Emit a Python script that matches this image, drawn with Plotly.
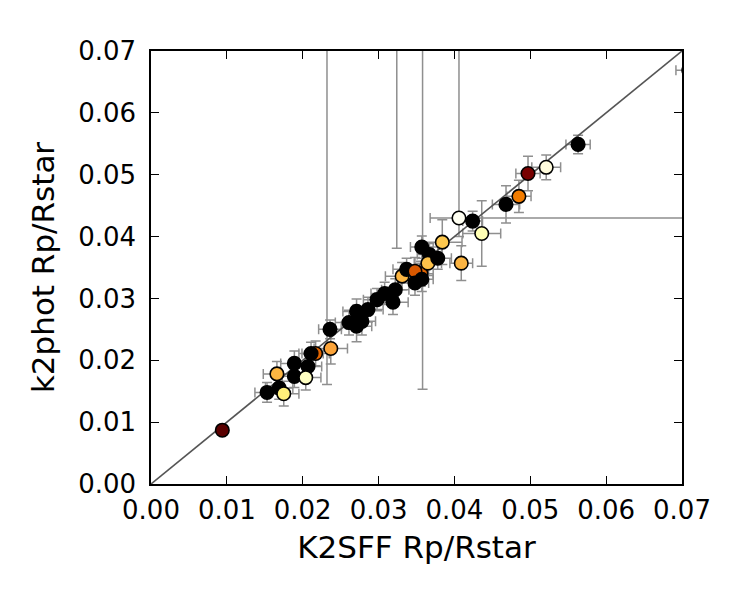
import plotly.graph_objects as go

# ---- data: K2SFF (x) vs k2phot (y) Rp/Rstar ----
k2sff = [0.0094, 0.0153, 0.0169, 0.0175, 0.0166, 0.0189, 0.0189, 0.0207, 0.0204, 0.0217,
         0.0211, 0.0236, 0.0237, 0.0261, 0.0271, 0.0278, 0.0271, 0.0286, 0.0298, 0.0308,
         0.0319, 0.0322, 0.0331, 0.0337, 0.0356, 0.0348, 0.0348, 0.0357, 0.0357, 0.0367,
         0.0365, 0.0378, 0.0384, 0.0409, 0.0406, 0.0424, 0.0436, 0.0468, 0.0485, 0.0497,
         0.0521, 0.0563, 0.0709]
k2phot = [0.0087, 0.0148, 0.0155, 0.0146, 0.0178, 0.0195, 0.0174, 0.0190, 0.0172, 0.0211,
          0.0211, 0.0250, 0.0219, 0.0261, 0.0255, 0.0263, 0.0279, 0.0282, 0.0298, 0.0308,
          0.0294, 0.0314, 0.0336, 0.0347, 0.0340, 0.0344, 0.0325, 0.0331, 0.0383, 0.0371,
          0.0357, 0.0365, 0.0391, 0.0357, 0.0430, 0.0425, 0.0405, 0.0452, 0.0465, 0.0502,
          0.0512, 0.0549, 0.0669]
xerr_lo = [0.0005, 0.0016, 0.0018, 0.0020, 0.0018, 0.0018, 0.0016, 0.0018, 0.0020, 0.0018,
           0.0016, 0.0015, 0.0022, 0.0018, 0.0020, 0.0018, 0.0018, 0.0020, 0.0018, 0.0018,
           0.0020, 0.0018, 0.0022, 0.0018, 0.0016, 0.0018, 0.0018, 0.0015, 0.0015, 0.0016,
           0.0018, 0.0018, 0.0026, 0.0015, 0.0038, 0.0013, 0.0025, 0.0018, 0.0016, 0.0016,
           0.0019, 0.0016, 0.0017]
xerr_hi = [0.0005, 0.0016, 0.0018, 0.0020, 0.0018, 0.0018, 0.0016, 0.0018, 0.0020, 0.0018,
           0.0016, 0.0015, 0.0022, 0.0018, 0.0020, 0.0018, 0.0018, 0.0020, 0.0018, 0.0018,
           0.0020, 0.0018, 0.0022, 0.0018, 0.0016, 0.0018, 0.0018, 0.0015, 0.0015, 0.0016,
           0.0018, 0.0018, 0.0026, 0.0015, 0.0400, 0.0013, 0.0025, 0.0018, 0.0016, 0.0016,
           0.0019, 0.0016, 0.0017]
yerr_lo = [0.0005, 0.0016, 0.0018, 0.0020, 0.0020, 0.0020, 0.0018, 0.0020, 0.0020, 0.0020,
           0.0018, 0.0015, 0.0025, 0.0020, 0.0025, 0.0022, 0.0020, 0.0020, 0.0018, 0.0018,
           0.0020, 0.0018, 0.0022, 0.0018, 0.0020, 0.0022, 0.0020, 0.0020, 0.0018, 0.0018,
           0.0020, 0.0018, 0.0036, 0.0028, 0.0030, 0.0016, 0.0053, 0.0030, 0.0026, 0.0028,
           0.0020, 0.0015, 0.0010]
yerr_hi = [0.0005, 0.0016, 0.0018, 0.0020, 0.0020, 0.0020, 0.0018, 0.0020, 0.0020, 0.0020,
           0.0018, 0.0015, 0.0025, 0.0020, 0.0025, 0.0022, 0.0020, 0.0020, 0.0018, 0.0018,
           0.0020, 0.0018, 0.0022, 0.0018, 0.0020, 0.0022, 0.0020, 0.0020, 0.0018, 0.0018,
           0.0020, 0.0018, 0.0036, 0.0028, 0.0400, 0.0016, 0.0053, 0.0030, 0.0026, 0.0028,
           0.0020, 0.0015, 0.0010]
colors = ["#5a0000", "#000000", "#000000", "#fff07a", "#fdb642", "#000000", "#000000", "#000000", "#ffffc2", "#e06400",
          "#000000", "#000000", "#fba43a", "#000000", "#000000", "#000000", "#000000", "#000000", "#000000", "#000000",
          "#000000", "#000000", "#fdb642", "#000000", "#e06400", "#d85800", "#000000", "#000000", "#000000", "#000000",
          "#fdc24a", "#000000", "#fdc84e", "#fbb442", "#fffff2", "#000000", "#ffffb4", "#000000", "#f27c00", "#780000",
          "#fffbdc", "#000000", "#000000"]

# planets whose k2phot value lies above the plotted range (only their error bars show)
off_x = [0.0232, 0.0324, 0.0358]
off_y = [0.0800, 0.0900, 0.0850]
off_yerr = [0.0639, 0.0519, 0.0697]

one_to_one = [0.0, 0.07]
ticks = [0.00, 0.01, 0.02, 0.03, 0.04, 0.05, 0.06, 0.07]
tick_text = ["0.00", "0.01", "0.02", "0.03", "0.04", "0.05", "0.06", "0.07"]

ERR_COLOR = "#8f8f8f"

fig = go.Figure()

fig.add_trace(go.Scatter(x=off_x, y=off_y, mode="markers",
                         marker=dict(size=1, color="rgba(0,0,0,0)"),
                         error_y=dict(type="data", array=off_yerr, color=ERR_COLOR, thickness=1.5, width=5),
                         showlegend=False, hoverinfo="skip"))

fig.add_trace(go.Scatter(x=k2sff, y=k2phot, mode="markers",
                         marker=dict(size=1, color="rgba(0,0,0,0)"),
                         error_x=dict(type="data", symmetric=False, array=xerr_hi, arrayminus=xerr_lo,
                                      color=ERR_COLOR, thickness=1.5, width=5),
                         error_y=dict(type="data", symmetric=False, array=yerr_hi, arrayminus=yerr_lo,
                                      color=ERR_COLOR, thickness=1.5, width=5),
                         showlegend=False, hoverinfo="skip"))

fig.add_trace(go.Scatter(x=one_to_one, y=one_to_one, mode="lines",
                         line=dict(color="#555555", width=1.6), showlegend=False))

fig.add_trace(go.Scatter(x=k2sff, y=k2phot, mode="markers",
                         marker=dict(size=13.5, color=colors, line=dict(color="black", width=1.6)),
                         showlegend=False))

axis_common = dict(range=[0, 0.07], tickvals=ticks, ticktext=tick_text,
                   ticks="inside", ticklen=8, tickwidth=1.2, tickcolor="black",
                   showline=True, linecolor="black", linewidth=1.5, mirror="allticks",
                   showgrid=False, zeroline=False,
                   tickfont=dict(family="DejaVu Sans", size=26, color="black"))

fig.update_layout(
    width=750, height=600,
    margin=dict(l=151, r=68, t=51, b=116),
    paper_bgcolor="white", plot_bgcolor="white",
    xaxis=dict(**axis_common, ticklabelstandoff=2,
               title=dict(text="K2SFF Rp/Rstar", font=dict(family="DejaVu Sans", size=31, color="black"),
                          standoff=12)),
    yaxis=dict(**axis_common, ticklabelstandoff=8,
               title=dict(text="k2phot Rp/Rstar", font=dict(family="DejaVu Sans", size=31, color="black"),
                          standoff=14)),
)

fig.write_html("out.html")
